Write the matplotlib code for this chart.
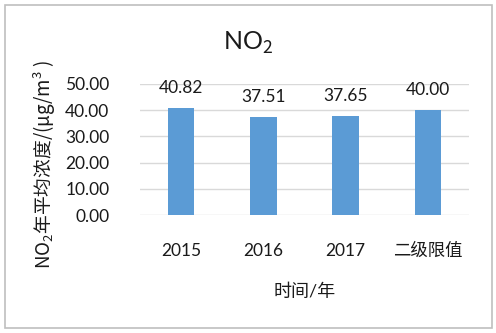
import matplotlib
matplotlib.use("Agg")
import matplotlib.pyplot as plt
from matplotlib.patches import Rectangle

categories = ["2015", "2016", "2017", "二级限值"]
values = [40.82, 37.51, 37.65, 40.00]
yticks = [0, 10, 20, 30, 40, 50]

fam = ["Lato", "Noto Sans CJK SC", "DejaVu Sans"]
plt.rcParams["font.family"] = fam
plt.rcParams["mathtext.fontset"] = "custom"
plt.rcParams["mathtext.rm"] = "Noto Sans CJK SC"
plt.rcParams["mathtext.default"] = "rm"

fig = plt.figure(figsize=(4.96, 3.33), dpi=100)
fig.patches.append(Rectangle((5/496, 5/333), 487/496, 323/333, transform=fig.transFigure,
                             fill=False, edgecolor="#BFBFBF", linewidth=1.2))
ax = fig.add_axes([140/496, 1-215/333, 329/496, 131/333])

x = list(range(len(categories)))
ax.bar(x, values, width=0.32, color="#5B9BD5", zorder=3)
ax.set_xlim(-0.5, len(categories)-0.5)
ax.set_ylim(0, 50)
ax.set_yticks(yticks)
ax.set_yticklabels([f"{v:.2f}" for v in yticks])
ax.set_xticks(x)
ax.set_xticklabels(categories)
ax.grid(axis="y", color="#D9D9D9", linewidth=1.0, zorder=0)
for s in ax.spines.values():
    s.set_visible(False)
ax.tick_params(axis="both", length=0, labelsize=12.5, colors="#1a1a1a")
ax.tick_params(axis="x", pad=20)
ax.tick_params(axis="y", pad=22)

for xi, v in zip(x, values):
    ax.annotate(f"{v:.2f}", (xi, v), xytext=(0, 14.5), textcoords="offset points",
                ha="center", va="center", fontsize=12.5, color="#1a1a1a", annotation_clip=False)

fig.text(248/496, 1-43/333, r"NO$_\mathrm{2}$", ha="center", va="center", fontsize=18, color="#1a1a1a")
ax.set_xlabel("时间/年", fontsize=13, labelpad=18, color="#1a1a1a")
fig.text(45/496, 1-165/333, r"NO$_\mathrm{2}$年平均浓度/(μg/m$^\mathrm{3}$ )", rotation=90,
         ha="center", va="center", fontsize=13.5, color="#1a1a1a", family="Noto Sans CJK SC")

fig.savefig("out.png", dpi=100)
